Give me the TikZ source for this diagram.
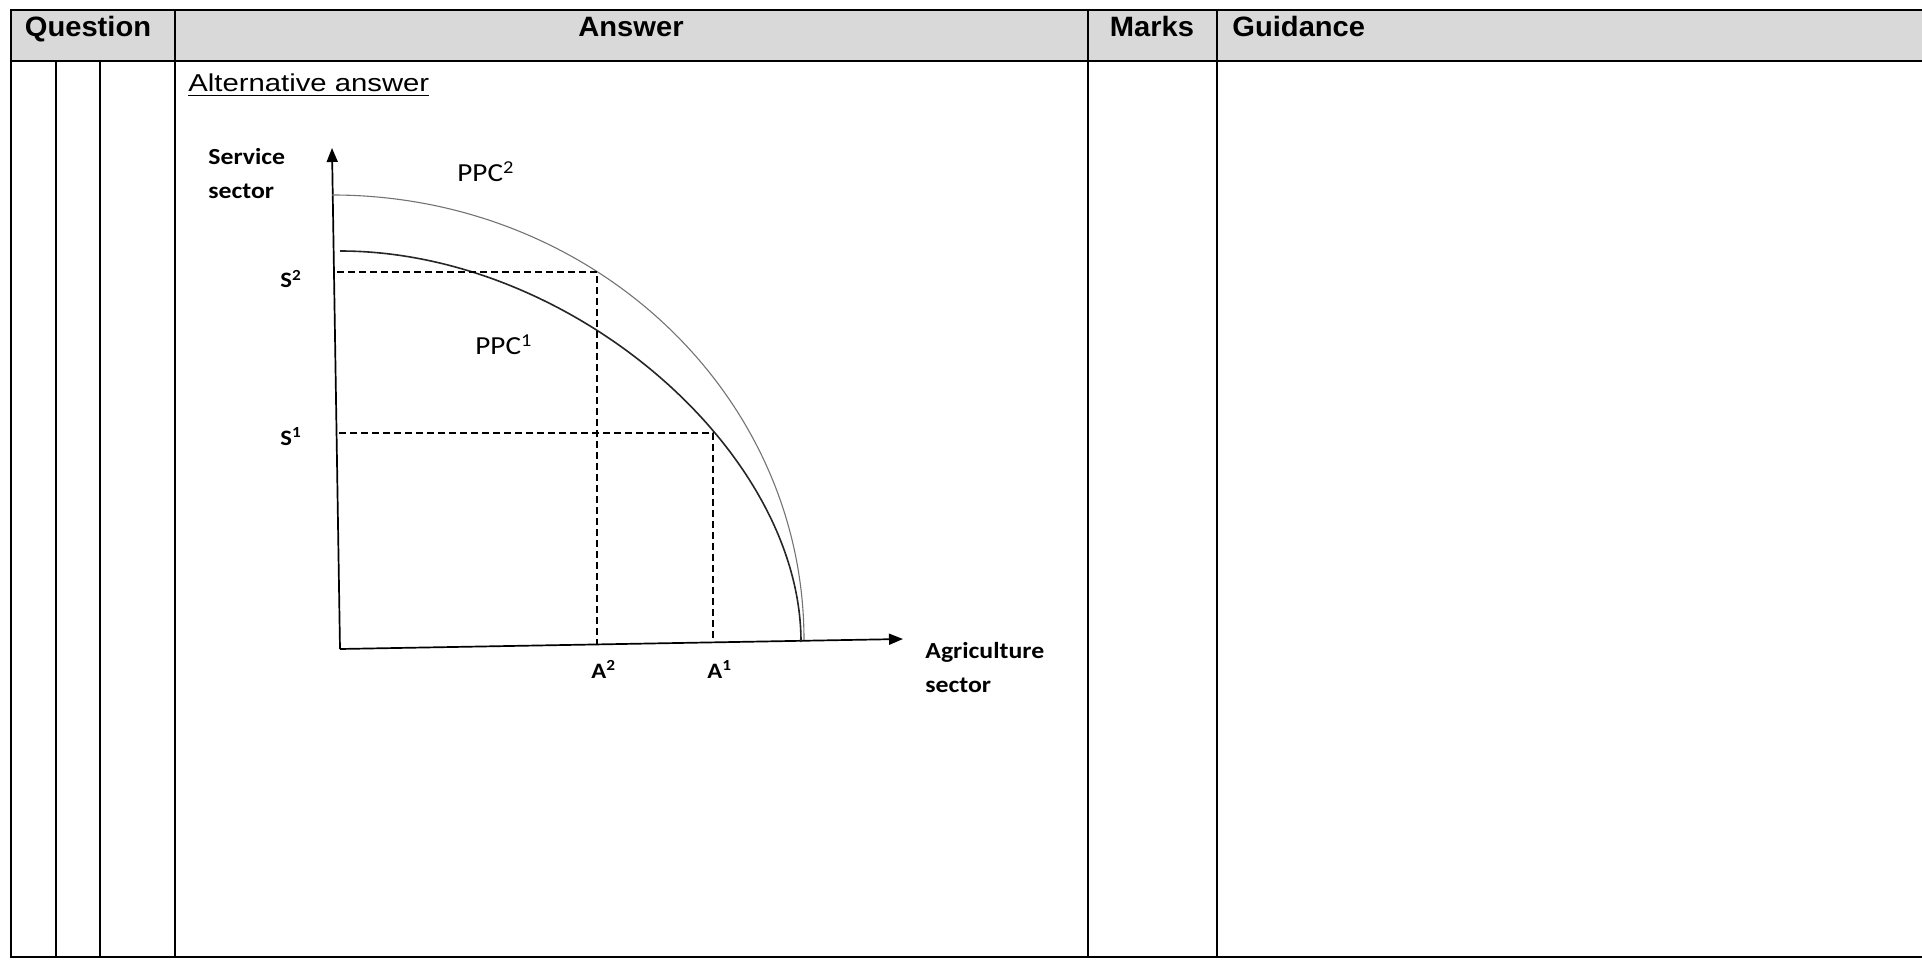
\documentclass[tikz,border=0pt]{standalone}
\usepackage{fontspec}
\setmainfont{Liberation Sans}[FakeStretch=1.2]
\newfontfamily\headfont{Liberation Sans}[FakeStretch=1.04]
\newfontfamily\chartfont{Carlito}[FakeStretch=1.12]
\usetikzlibrary{arrows.meta, positioning}
\definecolor{headgray}{HTML}{D9D9D9}

\begin{document}
\begin{tikzpicture}[x=0.5pt, y=-0.5pt,
    rule/.style={line width=1pt},
    head/.style={font=\headfont\bfseries\fontsize{14}{16}\selectfont, inner sep=0pt, anchor=base},
    axis/.style={-{Triangle[length=7pt, width=5.5pt]}, line width=0.85pt},
    guide/.style={dash pattern=on 3.5pt off 2pt, line width=0.65pt},
    ppcone/.style={line width=0.8pt, black!85},
    ppctwo/.style={line width=0.55pt, black!55},
    ticklbl/.style={font=\chartfont\bfseries\fontsize{11}{13}\selectfont, inner sep=0pt, anchor=base west},
    axislbl/.style={font=\chartfont\bfseries\fontsize{11.5}{17}\selectfont, inner sep=0pt, anchor=north west, align=left},
    ppclbl/.style={font=\chartfont\fontsize{13}{15}\selectfont, inner sep=0pt, anchor=base west}
]
    \useasboundingbox (0,0) rectangle (1922,962);

    % table frame
    \fill[headgray] (11,10) rectangle (1922,61);
    \draw[rule] (1922,10) -- (11,10) -- (11,957) -- (1922,957);
    \draw[rule] (11,61) -- (1922,61);
    \foreach \x in {175,1088,1217} \draw[rule] (\x,10) -- (\x,957);
    \foreach \x in {56,100} \draw[rule] (\x,61) -- (\x,957);

    \node[head] (qhead) at (88,37) {Question};
    \node[head] (ahead) at (631,37) {Answer};
    \node[head] (mhead) at (1152,37) {Marks};
    \node[head, anchor=base west] (ghead) at (1232,37) {Guidance};

    \node[inner sep=0pt, anchor=base west, font=\fontsize{12.2}{14}\selectfont] (alt) at (188,92) {\underline{Alternative answer}};

    % axes
    \coordinate (origin) at (340,649);
    \coordinate (ytip) at (332,148);
    \coordinate (xtip) at (903,639);
    \draw[axis] (origin) -- (ytip);
    \draw[axis] (origin) -- (xtip);

    % the two curves
    \draw[ppctwo] (332,195) .. controls (593,195) and (804,394) .. (804,640);
    \draw[ppcone] (340,251) .. controls (570,251) and (801,450) .. (801,642);

    % dashed guides
    \coordinate (s2) at (597,272);
    \coordinate (s1) at (713,433);
    \draw[guide] (337,272) -- (s2) -- (597,644);
    \draw[guide] (339,433) -- (s1) -- (713,642);

    \node[axislbl] (ylbl) at (208,148) {Service\\sector};
    \node[axislbl] (xlbl) at (925,642) {Agriculture\\sector};
    \node[ticklbl] (s2lbl) at (280,288) {S\textsuperscript{2}};
    \node[ticklbl] (s1lbl) at (280,445) {S\textsuperscript{1}};
    \node[ticklbl] (a2lbl) at (591,678) {A\textsuperscript{2}};
    \node[ticklbl] (a1lbl) at (707,678) {A\textsuperscript{1}};
    \node[ppclbl] (ppc2) at (457,182) {PPC\textsuperscript{2}};
    \node[ppclbl] (ppc1) at (475,355) {PPC\textsuperscript{1}};
\end{tikzpicture}
\end{document}
